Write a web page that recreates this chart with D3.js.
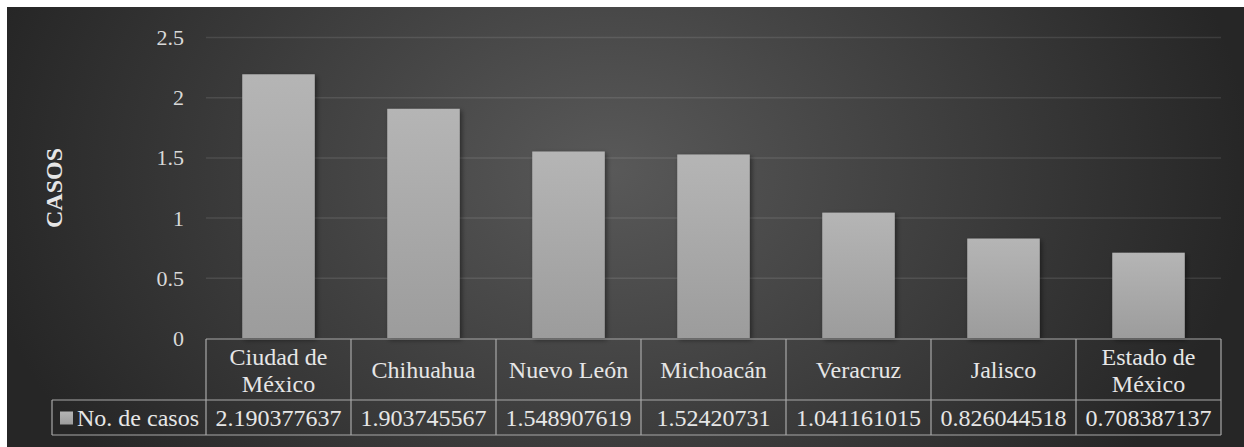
<!DOCTYPE html>
<html>
<head>
<meta charset="utf-8">
<script src="https://cdn.jsdelivr.net/npm/d3@7"></script>
<style>
  html, body { margin: 0; padding: 0; background: #fff; }
  svg { display: block; font-family: "Liberation Serif", "Times New Roman", serif; }
</style>
</head>
<body>
<svg id="chart" width="1244" height="447"></svg>
<script>
// data
var categories = ["Ciudad de México", "Chihuahua", "Nuevo León", "Michoacán", "Veracruz", "Jalisco", "Estado de México"];
var casos = [2.190377637, 1.903745567, 1.548907619, 1.52420731, 1.041161015, 0.826044518, 0.708387137];
var yTicks = [0, 0.5, 1, 1.5, 2, 2.5];
var seriesName = "No. de casos";
var yTitle = "CASOS";

var W = 1244, H = 447;
var margin = {top: 37, left: 206, right: 1221, zero: 338};
var rowH = [61, 35];   // header row, value row
var serif = "'Liberation Serif', 'Times New Roman', serif";

var svg = d3.select("#chart");
var defs = svg.append("defs");

var bg = defs.append("radialGradient")
  .attr("id", "bg")
  .attr("gradientUnits", "userSpaceOnUse")
  .attr("cx", 610).attr("cy", 170).attr("r", 640)
  .attr("gradientTransform", "translate(610,170) scale(1,0.75) translate(-610,-170)");
bg.append("stop").attr("offset", "0%").attr("stop-color", "#595959");
bg.append("stop").attr("offset", "100%").attr("stop-color", "#262626");

var barGrad = defs.append("linearGradient")
  .attr("id", "barGrad").attr("x1", 0).attr("y1", 0).attr("x2", 0).attr("y2", 1);
barGrad.append("stop").attr("offset", "0%").attr("stop-color", "#b5b5b5");
barGrad.append("stop").attr("offset", "100%").attr("stop-color", "#9c9c9c");

var shadow = defs.append("filter").attr("id", "shadow")
  .attr("x", "-20%").attr("y", "-20%").attr("width", "150%").attr("height", "150%");
shadow.append("feDropShadow")
  .attr("dx", 2).attr("dy", 2).attr("stdDeviation", 2.5)
  .attr("flood-color", "#000").attr("flood-opacity", 0.45);

svg.append("rect")
  .attr("x", 7).attr("y", 7).attr("width", W - 7).attr("height", H - 7)
  .attr("fill", "url(#bg)");

var y = d3.scaleLinear()
  .domain([0, 2.5])
  .range([margin.zero, margin.top]);

var x = d3.scaleBand()
  .domain(categories)
  .range([margin.left, margin.right])
  .paddingInner(0.5)
  .paddingOuter(0.25);

var col = d3.scaleBand()
  .domain(categories)
  .range([margin.left, margin.right]);

// gridlines + y labels via axis
var yAxis = svg.append("g")
  .attr("class", "y_axis")
  .attr("transform", "translate(" + margin.left + ",0)")
  .call(d3.axisLeft(y).tickValues(yTicks).tickFormat(function(d) { return String(d); })
    .tickSize(-(margin.right - margin.left)).tickPadding(22));
yAxis.select(".domain").remove();
yAxis.selectAll(".tick line")
  .attr("stroke", "#ffffff").attr("stroke-opacity", function(d) { return d === 0 ? 0 : 0.1; })
  .attr("stroke-width", 1.5);
yAxis.selectAll(".tick text")
  .attr("fill", "#d9d9d9")
  .attr("dy", "0.34em")
  .style("font-size", "22px")
  .style("font-family", serif);

svg.append("text")
  .attr("transform", "translate(62,188) rotate(-90)")
  .attr("text-anchor", "middle")
  .attr("fill", "#e6e6e6")
  .style("font-size", "24px")
  .style("font-weight", "bold")
  .style("font-family", serif)
  .text(yTitle);

// bars
var rows = categories.map(function(c, i) { return {cat: c, value: casos[i]}; });

svg.selectAll(".bar")
  .data(rows)
  .enter().append("rect")
  .attr("class", "bar")
  .attr("x", function(d) { return x(d.cat); })
  .attr("y", function(d) { return y(d.value); })
  .attr("width", x.bandwidth())
  .attr("height", function(d) { return y(0) - y(d.value); })
  .attr("fill", "url(#barGrad)")
  .attr("filter", "url(#shadow)");

// data table
var t0 = margin.zero + 1;
var t1 = t0 + rowH[0];
var t2 = t1 + rowH[1];
var legendLeft = 52;
var lineColor = "#a8a8a8";
var table = svg.append("g").attr("class", "table")
  .attr("stroke", lineColor).attr("stroke-width", 1.2).attr("fill", "none");

table.append("line").attr("x1", margin.left).attr("x2", margin.right).attr("y1", t0).attr("y2", t0);
table.append("line").attr("x1", legendLeft).attr("x2", margin.right).attr("y1", t1).attr("y2", t1);
table.append("line").attr("x1", legendLeft).attr("x2", margin.right).attr("y1", t2).attr("y2", t2);
table.append("line").attr("x1", legendLeft).attr("x2", legendLeft).attr("y1", t1).attr("y2", t2);
table.selectAll(".vline")
  .data(categories)
  .enter().append("line")
  .attr("class", "vline")
  .attr("x1", function(d) { return col(d); }).attr("x2", function(d) { return col(d); })
  .attr("y1", t0).attr("y2", t2);
table.append("line").attr("x1", margin.right).attr("x2", margin.right).attr("y1", t0).attr("y2", t2);

var fs = 24;
var headers = svg.selectAll(".head")
  .data(categories)
  .enter().append("text")
  .attr("class", "head")
  .attr("text-anchor", "middle")
  .attr("fill", "#e6e6e6")
  .style("font-size", fs + "px")
  .style("font-family", serif);

headers.each(function(d) {
  var el = d3.select(this);
  var cx = col(d) + col.bandwidth() / 2;
  // wrap into two lines when the label is too wide for the cell
  el.text(d);
  var lines = [d];
  if (this.getComputedTextLength() > col.bandwidth() - 10) {
    var words = d.split(" ");
    lines = [words.slice(0, words.length - 1).join(" "), words[words.length - 1]];
  }
  el.text(null);
  var lh = 27;
  var start = (t0 + t1) / 2 - (lines.length - 1) * lh / 2 + 8.5;
  lines.forEach(function(l, i) {
    el.append("tspan").attr("x", cx).attr("y", start + i * lh).text(l);
  });
});

svg.selectAll(".val")
  .data(rows)
  .enter().append("text")
  .attr("class", "val")
  .attr("text-anchor", "middle")
  .attr("fill", "#e6e6e6")
  .style("font-size", fs + "px")
  .style("font-family", serif)
  .attr("x", function(d) { return col(d.cat) + col.bandwidth() / 2; })
  .attr("y", (t1 + t2) / 2 + 8.5)
  .text(function(d) { return String(d.value); });

svg.append("rect")
  .attr("x", legendLeft + 8).attr("y", (t1 + t2) / 2 - 6)
  .attr("width", 13).attr("height", 13)
  .attr("fill", "url(#barGrad)");
svg.append("text")
  .attr("x", legendLeft + 25).attr("y", (t1 + t2) / 2 + 8.5)
  .attr("fill", "#e6e6e6")
  .style("font-size", fs + "px")
  .style("font-family", serif)
  .text(seriesName);
</script>
</body>
</html>
